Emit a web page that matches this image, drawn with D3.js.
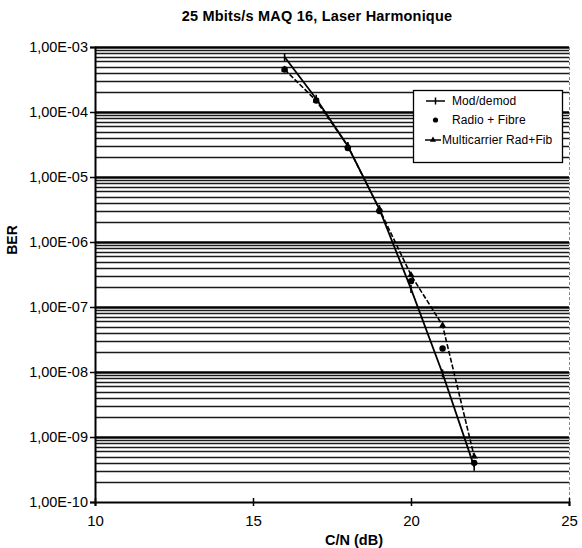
<!DOCTYPE html>
<html><head><meta charset="utf-8">
<script src="https://d3js.org/d3.v7.min.js"></script>
<style>body{margin:0;background:#fff}svg{display:block}text{font-family:"Liberation Sans",Arial,sans-serif}</style>
</head><body><svg id="c" width="582" height="548"></svg>
<script>
const title = "25 Mbits/s MAQ 16, Laser Harmonique";
const xTitle = "C/N (dB)";
const yTitle = "BER";
const xTicks = [10, 15, 20, 25];
const yTicks = [1e-3, 1e-4, 1e-5, 1e-6, 1e-7, 1e-8, 1e-9, 1e-10];
const cn = [16, 17, 18, 19, 20, 21, 22];
const modDemod = [7e-4, 1.6e-4, 3e-5, 3.2e-6, 1.9e-7, 9.5e-9, 3.5e-10];
const radioFibre = [4.5e-4, 1.5e-4, 2.8e-5, 3e-6, 2.5e-7, 2.3e-8, 4e-10];
const multicarrier = [4.5e-4, 1.5e-4, 3e-5, 3.2e-6, 3.1e-7, 5.2e-8, 5e-10];
const seriesNames = ["Mod/demod", "Radio + Fibre", "Multicarrier Rad+Fib"];

const svg = d3.select("#c");
const L = 95, R = 569, T = 47, B = 502;
const x = d3.scaleLinear().domain([10, 25]).range([L, R]);
const y = d3.scaleLog().domain([1e-10, 1e-3]).range([B, T]);

// minor / major horizontal gridlines
const grid = [];
for (let e = -10; e < -3; e++) for (let m = 1; m <= 9; m++) grid.push({v: m * Math.pow(10, e), major: m === 1});
grid.push({v: 1e-3, major: true});
svg.append("g").selectAll("line").data(grid.filter(d => d.v > 1e-10)).join("line")
  .attr("x1", L).attr("x2", R)
  .attr("y1", d => Math.round(y(d.v)) + 0.5).attr("y2", d => Math.round(y(d.v)) + 0.5)
  .attr("stroke", d => d.major ? "#000" : "#1a1a1a")
  .attr("stroke-width", d => d.major ? 2.6 : 1.6);

// right border
svg.append("line").attr("x1", R + 0.5).attr("x2", R + 0.5).attr("y1", T).attr("y2", B)
  .attr("stroke", "#888").attr("stroke-width", 1).attr("stroke-dasharray", "3,2");

// axes
const yAxis = d3.axisLeft(y).tickValues(yTicks).tickSize(5).tickPadding(2)
  .tickFormat(d => "1,00E-" + String(Math.round(-Math.log10(d))).padStart(2, "0"));
const gy = svg.append("g").attr("transform", `translate(${L},0)`).call(yAxis);
gy.select(".domain").attr("stroke", "#000").attr("stroke-width", 2);
gy.selectAll(".tick line").attr("stroke", "#000").attr("stroke-width", 1.5);
gy.selectAll(".tick text").attr("font-size", 14.5).attr("fill", "#000");

const xAxis = d3.axisBottom(x).tickValues(xTicks).tickSize(4).tickPadding(9).tickFormat(d3.format("d"));
const gx = svg.append("g").attr("transform", `translate(0,${B})`).call(xAxis);
gx.select(".domain").attr("stroke", "#000").attr("stroke-width", 2);
gx.selectAll(".tick line").attr("stroke", "#000").attr("stroke-width", 1.5).attr("y1", -4);
gx.selectAll(".tick text").attr("font-size", 15).attr("fill", "#000");

// series
const line = d3.line().x(d => x(d[0])).y(d => y(d[1]));
const md = cn.map((c, i) => [c, modDemod[i]]);
const rf = cn.map((c, i) => [c, radioFibre[i]]);
const mc = cn.map((c, i) => [c, multicarrier[i]]);

svg.append("path").attr("d", line(mc)).attr("fill", "none").attr("stroke", "#000")
  .attr("stroke-width", 1.6).attr("stroke-dasharray", "5,2");
svg.append("path").attr("d", line(md)).attr("fill", "none").attr("stroke", "#000").attr("stroke-width", 1.8);

const tri = d3.symbol().type(d3.symbolTriangle).size(22);
svg.append("g").selectAll("path").data(mc).join("path")
  .attr("d", tri).attr("transform", d => `translate(${x(d[0])},${y(d[1])})`).attr("fill", "#000");
svg.append("g").selectAll("circle").data(rf).join("circle")
  .attr("cx", d => x(d[0])).attr("cy", d => y(d[1])).attr("r", 3.2).attr("fill", "#000");
svg.append("g").selectAll("line").data(md).join("line")
  .attr("x1", d => x(d[0])).attr("x2", d => x(d[0]))
  .attr("y1", d => y(d[1]) - 4).attr("y2", d => y(d[1]) + 4)
  .attr("stroke", "#000").attr("stroke-width", 1.6);

// legend
const lg = svg.append("g");
lg.append("rect").attr("x", 413.5).attr("y", 90.5).attr("width", 149).attr("height", 72)
  .attr("fill", "#fff").attr("stroke", "#000").attr("stroke-width", 1.3);
const ly = [101, 120, 140];
lg.append("line").attr("x1", 426).attr("x2", 445).attr("y1", ly[0]).attr("y2", ly[0]).attr("stroke", "#000").attr("stroke-width", 1.5);
lg.append("line").attr("x1", 435.5).attr("x2", 435.5).attr("y1", ly[0] - 3.5).attr("y2", ly[0] + 3.5).attr("stroke", "#000").attr("stroke-width", 1.5);
lg.append("circle").attr("cx", 435.5).attr("cy", ly[1]).attr("r", 2.6).attr("fill", "#000");
lg.append("line").attr("x1", 425).attr("x2", 441).attr("y1", ly[2]).attr("y2", ly[2]).attr("stroke", "#000").attr("stroke-width", 1.5);
lg.append("path").attr("d", d3.symbol().type(d3.symbolTriangle).size(16)).attr("transform", `translate(433,${ly[2]})`).attr("fill", "#000");
const lx = [452, 452, 442];
lg.selectAll("text").data(seriesNames).join("text")
  .attr("x", (d, i) => lx[i]).attr("y", (d, i) => ly[i]).attr("dy", "0.35em")
  .attr("font-size", 12).attr("letter-spacing", "0.1").attr("fill", "#000").text(d => d);

// titles
svg.append("text").attr("x", 317).attr("y", 21).attr("text-anchor", "middle")
  .attr("font-size", 14.5).attr("font-weight", "bold").attr("letter-spacing", "0.2").text(title);
svg.append("text").attr("x", 354).attr("y", 545).attr("text-anchor", "middle")
  .attr("font-size", 14.5).attr("font-weight", "bold").text(xTitle);
svg.append("text").attr("transform", "translate(17,240) rotate(-90)").attr("text-anchor", "middle")
  .attr("font-size", 14).attr("font-weight", "bold").text(yTitle);
</script></body></html>
